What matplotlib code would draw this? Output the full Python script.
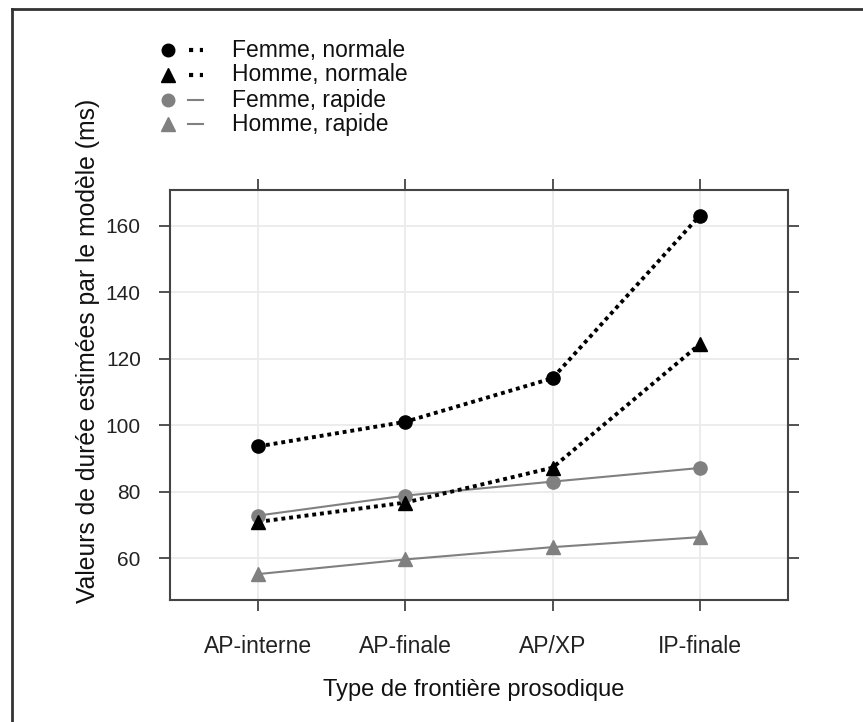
import matplotlib
matplotlib.use("Agg")
import matplotlib.pyplot as plt
from matplotlib.lines import Line2D

plt.rcParams['font.family'] = ['Liberation Sans', 'DejaVu Sans']

categories = ["AP-interne", "AP-finale", "AP/XP", "IP-finale"]
femme_normale = [93.6, 101.0, 114.1, 163.0]
homme_normale = [70.9, 76.7, 87.2, 124.3]
femme_rapide = [72.8, 78.8, 83.0, 87.1]
homme_rapide = [55.2, 59.6, 63.3, 66.3]
series_labels = ["Femme, normale", "Homme, normale", "Femme, rapide", "Homme, rapide"]
y_ticks = [60, 80, 100, 120, 140, 160]

W, H = 863, 722
fig = plt.figure(figsize=(W / 100, H / 100), dpi=100)
ax = fig.add_axes([170 / W, 1 - 600 / H, (788 - 170) / W, (600 - 190) / H])

x = list(range(1, len(categories) + 1))
gray = "#808080"
dot_ls = (0, (1.0, 1.0))

styles = [
    dict(color="black", marker="o", ls=dot_ls, lw=2.8, ms=9.5, mfc="black", mec="black"),
    dict(color="black", marker="^", ls=dot_ls, lw=2.8, ms=10, mfc="black", mec="black"),
    dict(color=gray, marker="o", ls="-", lw=1.5, ms=9.5, mfc=gray, mec=gray),
    dict(color=gray, marker="^", ls="-", lw=1.5, ms=10, mfc=gray, mec=gray),
]
data = [femme_normale, homme_normale, femme_rapide, homme_rapide]
order = [3, 2, 1, 0]
for i in order:
    st = styles[i]
    ax.plot(x, data[i], color=st["color"], ls=st["ls"], lw=st["lw"], zorder=3)
    ax.plot(x, data[i], ls="none", marker=st["marker"], ms=st["ms"],
            mfc=st["mfc"], mec=st["mec"], zorder=4)

ax.set_xlim(0.4, 4.6)
ax.set_ylim(47.4, 170.7)
ax.set_xticks(x)
ax.set_xticklabels(categories)
ax.set_yticks(y_ticks)
ax.grid(True, color="#ebebeb", lw=1.3, zorder=0)
ax.set_axisbelow(True)
for s in ax.spines.values():
    s.set_color("#444444")
    s.set_linewidth(1.5)
ax.tick_params(axis="both", which="major", direction="out", length=8, width=1.3,
               color="#444444", labelcolor="#222222",
               top=True, right=True, labeltop=False, labelright=False)
ax.tick_params(axis="x", pad=17, labelsize=16.5)
ax.tick_params(axis="y", pad=13, labelsize=15)

fig.text(88 / W, 1 - 351 / H, "Valeurs de durée estimées par le modèle (ms)",
         rotation=90, ha="center", va="center", fontsize=17.8, color="#111111")
fig.text(474 / W, 1 - 690 / H, "Type de frontière prosodique",
         ha="center", va="center", fontsize=17, color="#111111")

# legend (manual, lattice-style key)
rows_y = [50, 75, 100, 124]
for i, lab in enumerate(series_labels):
    st = styles[i]
    yy = 1 - rows_y[i] / H
    fig.add_artist(Line2D([168 / W], [yy], marker=st["marker"], ls="none",
                          ms=st["ms"] * 0.95, mfc=st["mfc"], mec=st["mec"]))
    if st["ls"] == "-":
        fig.add_artist(Line2D([188 / W, 203 / W], [yy, yy], color=st["color"], lw=1.5))
    else:
        fig.add_artist(Line2D([189 / W, 203 / W], [yy, yy], color=st["color"], lw=3,
                              ls=(0, (1.0, 1.6))))
    fig.text(232 / W, yy, lab, ha="left", va="center", fontsize=16.5, color="#111111")

# outer frame (top and left edges)
fig.add_artist(Line2D([12 / W, 1.0], [1 - 9 / H, 1 - 9 / H], color="#333333", lw=2))
fig.add_artist(Line2D([12 / W, 12 / W], [0.0, 1 - 9 / H], color="#333333", lw=2))

fig.savefig("out.png", dpi=100)
